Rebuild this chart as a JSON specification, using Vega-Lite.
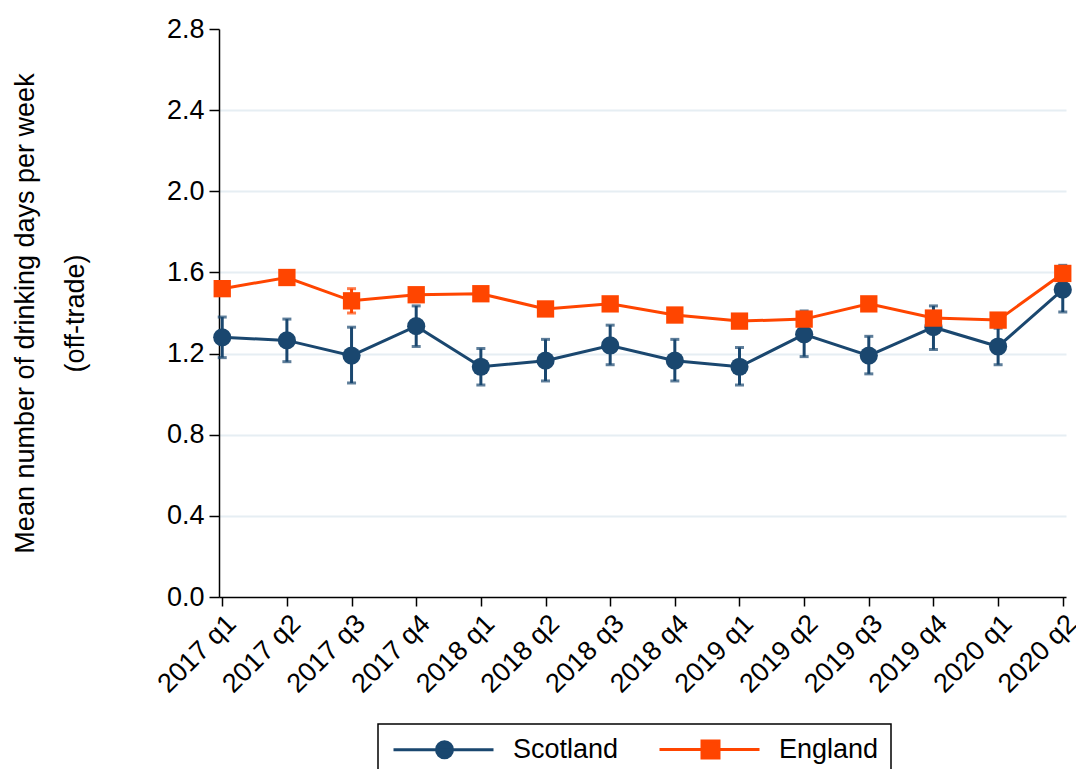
{
  "$schema": "https://vega.github.io/schema/vega-lite/v6.json",
  "autosize": {"type": "none"},
  "width": 847,
  "height": 568,
  "padding": {"left": 219, "top": 29, "right": 10, "bottom": 172},
  "background": "white",
  "config": {
    "font": "Liberation Sans",
    "view": {"stroke": null}
  },
  "data": {"values": [
    {"period": "2017 q1", "country": "Scotland", "mean": 1.28, "lo": 1.18, "hi": 1.38},
    {"period": "2017 q2", "country": "Scotland", "mean": 1.265, "lo": 1.16, "hi": 1.37},
    {"period": "2017 q3", "country": "Scotland", "mean": 1.19, "lo": 1.055, "hi": 1.33},
    {"period": "2017 q4", "country": "Scotland", "mean": 1.335, "lo": 1.235, "hi": 1.435},
    {"period": "2018 q1", "country": "Scotland", "mean": 1.135, "lo": 1.045, "hi": 1.225},
    {"period": "2018 q2", "country": "Scotland", "mean": 1.165, "lo": 1.065, "hi": 1.27},
    {"period": "2018 q3", "country": "Scotland", "mean": 1.24, "lo": 1.145, "hi": 1.34},
    {"period": "2018 q4", "country": "Scotland", "mean": 1.165, "lo": 1.065, "hi": 1.27},
    {"period": "2019 q1", "country": "Scotland", "mean": 1.135, "lo": 1.045, "hi": 1.23},
    {"period": "2019 q2", "country": "Scotland", "mean": 1.295, "lo": 1.185, "hi": 1.41},
    {"period": "2019 q3", "country": "Scotland", "mean": 1.19, "lo": 1.1, "hi": 1.285},
    {"period": "2019 q4", "country": "Scotland", "mean": 1.33, "lo": 1.22, "hi": 1.435},
    {"period": "2020 q1", "country": "Scotland", "mean": 1.235, "lo": 1.145, "hi": 1.325},
    {"period": "2020 q2", "country": "Scotland", "mean": 1.515, "lo": 1.405, "hi": 1.635},
    {"period": "2017 q1", "country": "England", "mean": 1.52, "lo": 1.49, "hi": 1.55},
    {"period": "2017 q2", "country": "England", "mean": 1.575, "lo": 1.545, "hi": 1.605},
    {"period": "2017 q3", "country": "England", "mean": 1.46, "lo": 1.4, "hi": 1.52},
    {"period": "2017 q4", "country": "England", "mean": 1.49, "lo": 1.46, "hi": 1.52},
    {"period": "2018 q1", "country": "England", "mean": 1.495, "lo": 1.465, "hi": 1.525},
    {"period": "2018 q2", "country": "England", "mean": 1.42, "lo": 1.39, "hi": 1.45},
    {"period": "2018 q3", "country": "England", "mean": 1.445, "lo": 1.415, "hi": 1.475},
    {"period": "2018 q4", "country": "England", "mean": 1.39, "lo": 1.36, "hi": 1.42},
    {"period": "2019 q1", "country": "England", "mean": 1.36, "lo": 1.33, "hi": 1.39},
    {"period": "2019 q2", "country": "England", "mean": 1.37, "lo": 1.34, "hi": 1.4},
    {"period": "2019 q3", "country": "England", "mean": 1.445, "lo": 1.415, "hi": 1.475},
    {"period": "2019 q4", "country": "England", "mean": 1.375, "lo": 1.345, "hi": 1.405},
    {"period": "2020 q1", "country": "England", "mean": 1.365, "lo": 1.335, "hi": 1.395},
    {"period": "2020 q2", "country": "England", "mean": 1.595, "lo": 1.565, "hi": 1.625}
  ]},
  "encoding": {
    "x": {"field": "period", "type": "ordinal", "scale": {"type": "point", "padding": 0.05},
          "axis": {"title": null, "labelAngle": -45, "tickSize": 9, "labelPadding": 4, "grid": false,
                   "labelFontSize": 27, "labelFont": "Liberation Sans", "labelColor": "black",
                   "domainColor": "black", "tickColor": "black", "domainWidth": 1.5, "tickWidth": 1.5}},
    "color": {"field": "country", "type": "nominal", "scale": {"domain": ["Scotland", "England"], "range": ["#1a476f", "#ff4500"]},
              "legend": {"orient": "none", "legendX": 159, "legendY": 695, "direction": "horizontal", "title": null,
                         "strokeColor": "black", "padding": 12, "symbolSize": 400, "symbolStrokeWidth": 3,
                         "symbolType": "M-1,0H9M3.3,0A0.8,0.8,0,1,0,4.9,0A0.8,0.8,0,1,0,3.3,0Z",
                         "labelOffset": 96, "columnPadding": 34, "labelFontSize": 27, "labelFont": "Liberation Sans", "labelColor": "black",
                         "encode": {
                           "legend": {"update": {"strokeWidth": {"value": 1.5}}},
                           "symbols": {"update": {
                           "shape": {"signal": "datum.value === 'Scotland' ? 'M-1,0H9M3.3,0A0.8,0.8,0,1,0,4.9,0A0.8,0.8,0,1,0,3.3,0Z' : 'M-1,0H9M3.25,-0.85H4.95V0.85H3.25Z'"},
                           "fill": {"signal": "datum.value === 'Scotland' ? '#1a476f' : '#ff4500'"},
                           "stroke": {"signal": "datum.value === 'Scotland' ? '#1a476f' : '#ff4500'"},
                           "strokeWidth": {"value": 3},
                           "opacity": {"value": 1}
                         }}}}}
  },
  "layer": [
    {
      "mark": {"type": "rule", "strokeWidth": 3},
      "encoding": {
        "y": {"field": "lo", "type": "quantitative"},
        "y2": {"field": "hi"}
      }
    },
    {
      "mark": {"type": "tick", "size": 9, "thickness": 3},
      "encoding": {
        "y": {"field": "lo", "type": "quantitative"}
      }
    },
    {
      "mark": {"type": "tick", "size": 9, "thickness": 3},
      "encoding": {
        "y": {"field": "hi", "type": "quantitative"}
      }
    },
    {
      "mark": {"type": "line", "strokeWidth": 3},
      "encoding": {
        "y": {"field": "mean", "type": "quantitative",
              "scale": {"domain": [0, 2.8], "nice": false, "zero": true},
              "axis": {"title": ["Mean number of drinking days per week", "(off-trade)"], "titleLineHeight": 50, "titlePadding": 77,
                       "titleFontSize": 27, "titleFont": "Liberation Sans", "titleFontWeight": "normal", "titleColor": "black",
                       "labelFontSize": 27, "labelFont": "Liberation Sans", "labelColor": "black",
                       "domainColor": "black", "tickColor": "black", "domainWidth": 1.5, "tickWidth": 1.5,
                       "values": [0, 0.4, 0.8, 1.2, 1.6, 2.0, 2.4, 2.8], "format": ".1f", "tickSize": 10, "labelPadding": 5,
                       "grid": true, "gridColor": {"condition": {"test": "datum.value == 2.8 || datum.value == 0", "value": "transparent"}, "value": "#e6eef3"}, "gridWidth": 2}}
      }
    },
    {
      "transform": [{"filter": "datum.country === 'Scotland'"}],
      "mark": {"type": "point", "filled": true, "size": 330, "opacity": 1, "shape": "circle"},
      "encoding": {
        "y": {"field": "mean", "type": "quantitative"}
      }
    },
    {
      "transform": [{"filter": "datum.country === 'England'"}],
      "mark": {"type": "point", "filled": true, "size": 300, "opacity": 1, "shape": "square"},
      "encoding": {
        "y": {"field": "mean", "type": "quantitative"}
      }
    }
  ]
}
